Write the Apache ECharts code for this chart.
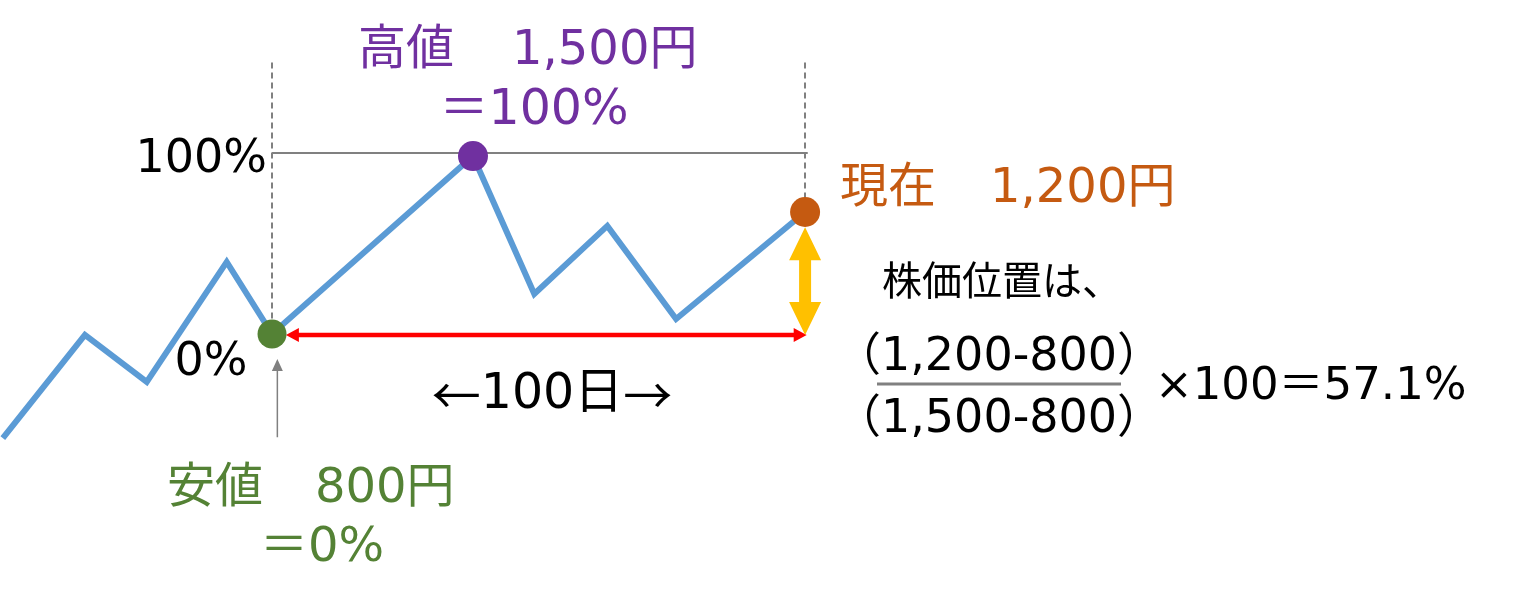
<!DOCTYPE html>
<html><head><meta charset="utf-8">
<script src="https://cdn.jsdelivr.net/npm/echarts@6/dist/echarts.min.js"></script>
<style>html,body{margin:0;padding:0;background:#fff}#c{width:1521px;height:605px}</style>
</head><body><div id="c"></div>
<script>
// ---- data (days relative to the low, position in % of low→high range) ----
const days = [-50.5, -35.1, -23.5, -8.5, 0, 37.7, 49.2, 62.9, 75.8, 100];
const positionPct = [-57.5, -0.5, -26.5, 39.8, 0, 98.3, 22.1, 59.7, 8.3, 67.4];
const lowPoint = [0, 0];
const highPoint = [37.7, 98.3];
const currentPoint = [100, 67.4];
const periodDays = 100;
const guideTop = 150;      // top of the dashed guide lines (%)
// arrows: [x1, y1, x2, y2]
const redArrow = [2.6, -0.5, 100.3, -0.5];
const goldArrow = [100, 59, 100, -0.5];
const greyArrow = [1.0, -57, 1.0, -13.8];

// ---- texts ----
const txtHighA = '高値', txtHighB = '1,500円';
const txtHighPct = '＝100%';
const txt100 = '100%';
const txt0 = '0%';
const txtNowA = '現在', txtNowB = '1,200円';
const txtPos = '株価位置は、';
const txtNum = '（1,200-800）';
const txtDen = '（1,500-800）';
const txtRes = '×100＝57.1%';
const txtDays = ['←', '100日', '→'];
const txtLowA = '安値', txtLowB = '800円';
const txtLowPct = '＝0%';
const WSP = '　';

const FF = '"DejaVu Sans", "Noto Sans CJK JP", sans-serif';
const FJ = '"Noto Sans CJK JP", sans-serif';
const C_LINE = '#5B9BD5', C_PURPLE = '#7030A0', C_ORANGE = '#C55A11', C_GREEN = '#548235',
      C_GOLD = '#FFC000', C_RED = '#FF0000', C_GREY = '#808080';

const arrowData = [redArrow, goldArrow, greyArrow];
const arrowStyles = [
  {color: C_RED, w: 4.5, hw: 14, hl: 13, both: true},
  {color: C_GOLD, w: 12, hw: 32, hl: 33, both: true},
  {color: C_GREY, w: 1.5, hw: 11, hl: 12, both: false}
];

function renderArrow(params, api) {
  const s = arrowStyles[params.dataIndex];
  const p1 = api.coord([api.value(0), api.value(1)]);
  const p2 = api.coord([api.value(2), api.value(3)]);
  const dx = p2[0] - p1[0], dy = p2[1] - p1[1];
  const len = Math.sqrt(dx * dx + dy * dy);
  const ux = dx / len, uy = dy / len, nx = -uy, ny = ux;
  const P = (b, k, m) => [b[0] + ux * k + nx * m, b[1] + uy * k + ny * m];
  let pts;
  if (s.both) {
    pts = [p1, P(p1, s.hl, s.hw / 2), P(p1, s.hl, s.w / 2), P(p2, -s.hl, s.w / 2), P(p2, -s.hl, s.hw / 2), p2,
           P(p2, -s.hl, -s.hw / 2), P(p2, -s.hl, -s.w / 2), P(p1, s.hl, -s.w / 2), P(p1, s.hl, -s.hw / 2)];
  } else {
    pts = [P(p1, 0, s.w / 2), P(p2, -s.hl, s.w / 2), P(p2, -s.hl, s.hw / 2), p2,
           P(p2, -s.hl, -s.hw / 2), P(p2, -s.hl, -s.w / 2), P(p1, 0, -s.w / 2)];
  }
  return {type: 'polygon', shape: {points: pts}, style: {fill: s.color}};
}

function txt(text, x, y, size, color, align) {
  return {type: 'text', x: x, y: y, z: 10,
    style: {text: text, font: size + 'px ' + FF, fill: color, align: align || 'center', verticalAlign: 'middle'}};
}
// label "A　B" with a wider ideographic space
function txtGap(a, b, x, y, size, color, gap) {
  return {type: 'text', x: x, y: y, z: 10,
    style: {text: a + '{s|' + WSP + '}' + b, font: size + 'px ' + FF, fill: color, align: 'left', verticalAlign: 'middle',
      rich: {s: {width: gap, font: size + 'px ' + FF}}}};
}

const chart = echarts.init(document.getElementById('c'));
chart.setOption({
  animation: false,
  backgroundColor: '#fff',
  grid: {left: 0, right: 0, top: 0, bottom: 0},
  xAxis: {type: 'value', min: -51.03, max: 234.3, show: false},
  yAxis: {type: 'value', min: -149.7, max: 184.5, show: false},
  series: [
    {
      type: 'line', z: 2,
      data: days.map((d, i) => [d, positionPct[i]]),
      showSymbol: false, symbol: 'none',
      lineStyle: {color: C_LINE, width: 6, join: 'miter'},
      markLine: {
        silent: true, symbol: 'none', label: {show: false}, animation: false,
        data: [
          [{coord: [lowPoint[0], guideTop]}, {coord: lowPoint}],
          [{coord: [currentPoint[0], guideTop]}, {coord: currentPoint}],
        ],
        lineStyle: {color: C_GREY, width: 2, type: [6, 4]}
      }
    },
    {
      type: 'line', z: 1, symbol: 'none', data: [],
      markLine: {
        silent: true, symbol: 'none', label: {show: false}, animation: false,
        data: [[{coord: [lowPoint[0], 100]}, {coord: [periodDays + 0.5, 100]}]],
        lineStyle: {color: C_GREY, width: 2, type: 'solid'}
      }
    },
    {
      type: 'custom', z: 3, clip: false,
      renderItem: renderArrow,
      encode: {x: [0, 2], y: [1, 3]},
      data: arrowData
    },
    {
      type: 'scatter', z: 5, symbolSize: 30,
      itemStyle: {opacity: 1},
      emphasis: {disabled: true},
      data: [
        {value: lowPoint, itemStyle: {color: C_GREEN, opacity: 1}, symbolSize: 29},
        {value: highPoint, itemStyle: {color: C_PURPLE, opacity: 1}},
        {value: currentPoint, itemStyle: {color: C_ORANGE, opacity: 1}}
      ]
    }
  ],
  graphic: [
    txtGap(txtHighA, txtHighB, 358, 52, 48, C_PURPLE, 58),
    txt(txtHighPct, 534, 111, 49, C_PURPLE),
    txt(txt100, 267, 160, 46, '#000', 'right'),
    txt(txt0, 211, 363, 46, '#000'),
    txtGap(txtNowA, txtNowB, 840, 190, 48, C_ORANGE, 54),
    txt(txtPos, 882, 285, 40, '#000', 'left'),
    txt(txtNum, 999, 358, 46, '#000'),
    {type: 'line', z: 10, shape: {x1: 877, y1: 384, x2: 1121, y2: 384}, style: {stroke: C_GREY, lineWidth: 3}},
    txt(txtDen, 999, 420, 46, '#000'),
    txt(txtRes, 1155, 387, 45, '#000', 'left'),
    {type: 'text', x: 552, y: 395, z: 10,
      style: {text: '{a|' + txtDays[0] + '}' + txtDays[1] + '{a|' + txtDays[2] + '}', font: '49px ' + FF, fill: '#000',
        align: 'center', verticalAlign: 'middle', rich: {a: {font: '49px ' + FJ}}}},
    txtGap(txtLowA, txtLowB, 167, 490, 48, C_GREEN, 52),
    txt(txtLowPct, 322, 549, 48, C_GREEN)
  ]
});
</script></body></html>
